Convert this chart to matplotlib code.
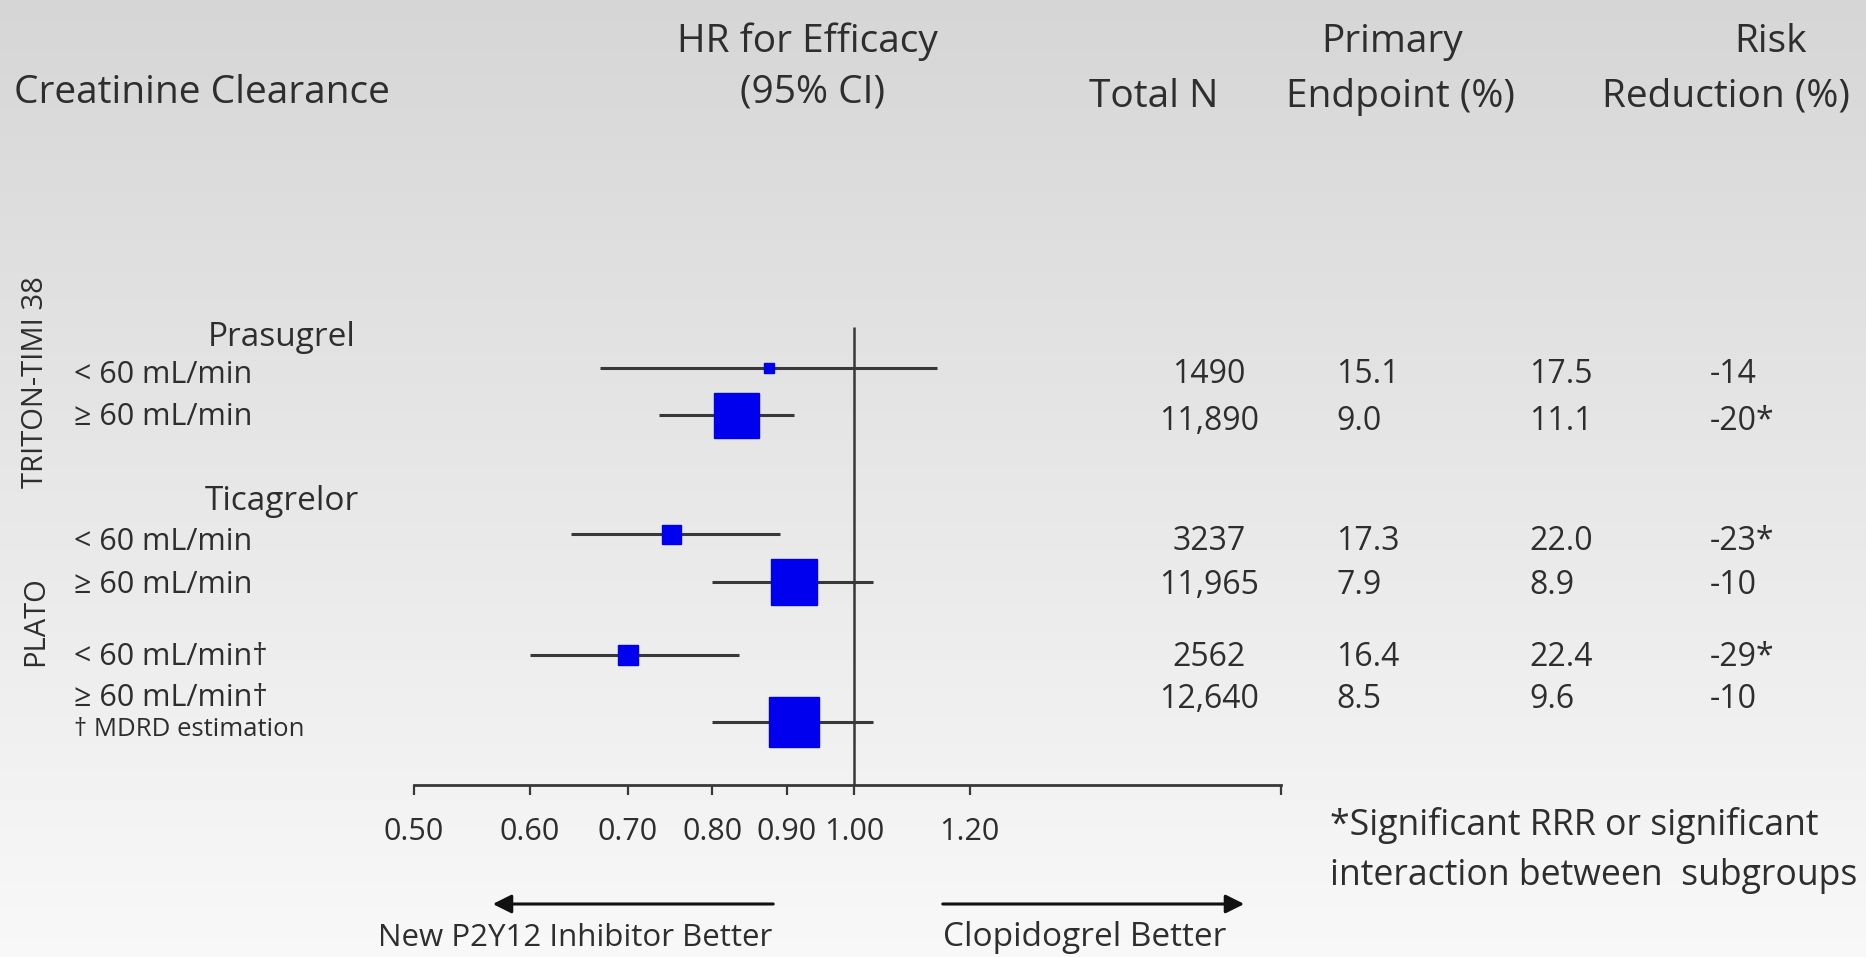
import numpy as np
import matplotlib
matplotlib.use("Agg")
import matplotlib.pyplot as plt
from matplotlib.patches import FancyArrowPatch
from matplotlib.ticker import NullLocator, FixedLocator, FixedFormatter

# ---------------- data ----------------
trials = ["TRITON-TIMI 38", "PLATO"]
drugs = ["Prasugrel", "Ticagrelor"]
subgroups = ["< 60 mL/min", "≥ 60 mL/min", "< 60 mL/min", "≥ 60 mL/min",
             "< 60 mL/min†", "≥ 60 mL/min†"]
hr = [0.875, 0.83, 0.75, 0.91, 0.70, 0.91]
ci_low = [0.67, 0.735, 0.64, 0.80, 0.60, 0.80]
ci_high = [1.14, 0.91, 0.89, 1.03, 0.835, 1.03]
total_n = ["1490", "11,890", "3237", "11,965", "2562", "12,640"]
endpoint_new = ["15.1", "9.0", "17.3", "7.9", "16.4", "8.5"]
endpoint_clop = ["17.5", "11.1", "22.0", "8.9", "22.4", "9.6"]
risk_reduction = ["-14", "-20*", "-23*", "-10", "-29*", "-10"]
tick_values = [0.5, 0.6, 0.7, 0.8, 0.9, 1.0, 1.2, 1.96]
tick_labels = ["0.50", "0.60", "0.70", "0.80", "0.90", "1.00", "1.20", ""]

# ---------------- layout (pixels of the 1866x957 output) ----------------
W, H = 1866, 957
row_text_y = [371, 413, 538, 581, 653, 694]
data_y = [371, 417, 538, 582, 653, 695]
marker_y = [368, 415, 534, 582, 655, 722]
box_px = [10, 45, 19, 46, 20, 50]
TXT = "#2e2e2e"
LINE = "#383838"
BLUE = "#0000ee"
DY = 4  # vertical text nudge in pixels

plt.rcParams['font.family'] = ['Open Sans', 'DejaVu Sans']

fig = plt.figure(figsize=(W / 100, H / 100), dpi=100)

# background gradient
bg = fig.add_axes([0, 0, 1, 1], zorder=-10)
grad = np.linspace(0, 1, 256)[:, None]
top = np.array([0.84, 0.84, 0.84])
bot = np.array([0.975, 0.975, 0.975])
img = top[None, None, :] * (1 - grad[:, :, None]) + bot[None, None, :] * grad[:, :, None]
bg.imshow(img, aspect='auto', extent=[0, 1, 0, 1], origin='upper')
bg.set_axis_off()


def T(x, y, s, dy=DY, **kw):
    kw.setdefault('color', TXT)
    return fig.text(x / W, 1 - (y + dy) / H, s, **kw)


# forest axes
ax_l, ax_r, ax_b, ax_t = 414, 1281, 785, 300
ax = fig.add_axes([ax_l / W, 1 - ax_b / H, (ax_r - ax_l) / W, (ax_b - ax_t) / H])
ax.patch.set_alpha(0)
ax.set_xscale('log')
ax.set_xlim(tick_values[0], tick_values[-1])
ax.set_ylim(ax_b, ax_t)
for s in ['top', 'right', 'left']:
    ax.spines[s].set_visible(False)
ax.spines['bottom'].set_color(LINE)
ax.spines['bottom'].set_linewidth(2.0)
ax.set_yticks([])
ax.xaxis.set_minor_locator(NullLocator())
ax.xaxis.set_major_locator(FixedLocator(tick_values))
ax.xaxis.set_major_formatter(FixedFormatter(tick_labels))
ax.tick_params(axis='x', direction='out', length=7, width=1.6, color=LINE,
               pad=16, labelsize=22, labelcolor=TXT)

ax.vlines(1.0, 327, ax_b, color=LINE, lw=1.8, zorder=2)
ax.hlines(marker_y, ci_low, ci_high, color=LINE, lw=2.2, zorder=3)
for i in range(len(hr)):
    ax.plot(hr[i], marker_y[i], marker='s', ms=box_px[i] * 0.72, color=BLUE,
            mec=BLUE, zorder=4)

# header
hs = 28
T(14, 89, "Creatinine Clearance", fontsize=hs, va='center', ha='left')
T(807, 38, "HR for Efficacy", fontsize=hs, va='center', ha='center')
T(813, 89, "(95% CI)", fontsize=hs, va='center', ha='center')
T(1154, 93, "Total N", fontsize=hs, va='center', ha='center')
T(1392, 38, "Primary", fontsize=hs, va='center', ha='center')
T(1400, 93, "Endpoint (%)", fontsize=hs, va='center', ha='center')
T(1771, 38, "Risk", fontsize=hs, va='center', ha='center')
T(1726, 93, "Reduction (%)", fontsize=hs, va='center', ha='center')

# trial labels
T(36, 378, trials[0], fontsize=21, rotation=90, va='center', ha='center')
T(36, 617, trials[1], fontsize=21, rotation=90, va='center', ha='center')

# drug labels
T(208, 333, drugs[0], fontsize=24, va='center', ha='left')
T(205, 497, drugs[1], fontsize=24, va='center', ha='left')

rs = 22
for i, lab in enumerate(subgroups):
    T(74, row_text_y[i], lab, fontsize=rs, va='center', ha='left')
T(74, 726, "† MDRD estimation", fontsize=18.5, va='center', ha='left')

ds = 23
for i in range(len(total_n)):
    T(1209, data_y[i], total_n[i], fontsize=ds, va='center', ha='center')
    T(1336, data_y[i], endpoint_new[i], fontsize=ds, va='center', ha='left')
    T(1529, data_y[i], endpoint_clop[i], fontsize=ds, va='center', ha='left')
    T(1710, data_y[i], risk_reduction[i], fontsize=ds, va='center', ha='left')

# footnote
T(1330, 821, "*Significant RRR or significant", fontsize=25.7, va='center', ha='left')
T(1330, 872, "interaction between  subgroups", fontsize=25.7, va='center', ha='left')

# arrows
fig.add_artist(FancyArrowPatch(
    (776 / W, 1 - 904 / H), (490 / W, 1 - 904 / H), transform=fig.transFigure,
    arrowstyle='-|>', mutation_scale=28, color='#111111', lw=2.2))
fig.add_artist(FancyArrowPatch(
    (940 / W, 1 - 904 / H), (1247 / W, 1 - 904 / H), transform=fig.transFigure,
    arrowstyle='-|>', mutation_scale=28, color='#111111', lw=2.2))
T(575, 946, "New P2Y12 Inhibitor Better", dy=0, fontsize=22.5, va='baseline', ha='center')
T(1085, 946, "Clopidogrel Better", dy=0, fontsize=24, va='baseline', ha='center')

fig.savefig("out.png", dpi=100)
